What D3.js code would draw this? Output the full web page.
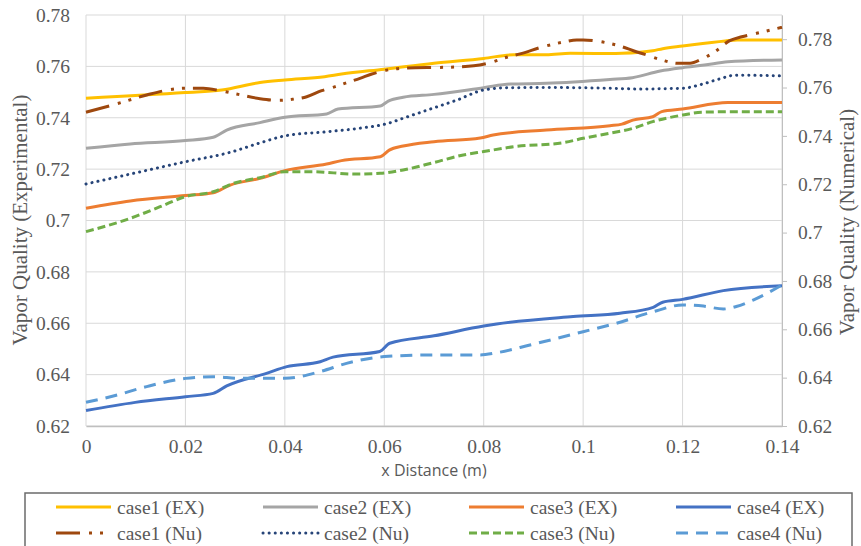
<!DOCTYPE html>
<html>
<head>
<meta charset="utf-8">
<script src="https://cdn.jsdelivr.net/npm/d3@7"></script>
<style>
    body { margin: 0; background: #fff; }
    svg { display: block; }
</style>
</head>
<body>
<div id="chart"></div>
<script>
let width = 861;
let height = 546;

// x ticks / y ticks
const xTicks = [0, 0.02, 0.04, 0.06, 0.08, 0.1, 0.12, 0.14];
const xTickLabels = ["0", "0.02", "0.04", "0.06", "0.08", "0.1", "0.12", "0.14"];
const yTicks = [0.62, 0.64, 0.66, 0.68, 0.70, 0.72, 0.74, 0.76, 0.78];
const yTickLabels = ["0.62", "0.64", "0.66", "0.68", "0.7", "0.72", "0.74", "0.76", "0.78"];

const seriesNames = ["case1 (EX)", "case2 (EX)", "case3 (EX)", "case4 (EX)",
                     "case1 (Nu)", "case2 (Nu)", "case3 (Nu)", "case4 (Nu)"];

// experimental (left axis)
const case1ExX = [0, 0.02, 0.0273, 0.035, 0.04, 0.048, 0.0514, 0.06, 0.07, 0.08, 0.086, 0.0926, 0.0974, 0.1054, 0.1078, 0.114, 0.116, 0.12, 0.1286, 0.131, 0.14];
const case1ExY = [0.7476, 0.7498, 0.7508, 0.7537, 0.7547, 0.756, 0.757, 0.7589, 0.7612, 0.7631, 0.7645, 0.7645, 0.7651, 0.765, 0.7651, 0.7661, 0.7669, 0.7679, 0.7699, 0.7703, 0.7703];

const case2ExX = [0, 0.0089, 0.02, 0.0256, 0.0283, 0.035, 0.04, 0.0484, 0.0507, 0.0592, 0.0608, 0.0638, 0.07, 0.08, 0.0853, 0.0926, 0.1054, 0.1099, 0.1155, 0.12, 0.1244, 0.1291, 0.14];
const case2ExY = [0.7281, 0.7298, 0.7311, 0.7324, 0.7352, 0.7381, 0.7402, 0.7415, 0.7434, 0.7446, 0.7465, 0.748, 0.7491, 0.7517, 0.7531, 0.7534, 0.7549, 0.7556, 0.7582, 0.7595, 0.7605, 0.7618, 0.7625];

const case3ExX = [0, 0.0089, 0.02, 0.0256, 0.029, 0.035, 0.04, 0.0484, 0.0514, 0.0592, 0.061, 0.0638, 0.07, 0.0793, 0.0819, 0.0926, 0.1054, 0.1078, 0.11, 0.114, 0.1158, 0.12, 0.1291, 0.14];
const case3ExY = [0.7048, 0.7076, 0.7097, 0.7108, 0.7138, 0.7164, 0.7194, 0.722, 0.7233, 0.7248, 0.7274, 0.729, 0.7307, 0.7321, 0.7333, 0.7352, 0.7369, 0.7375, 0.7391, 0.7404, 0.7424, 0.7434, 0.7459, 0.7459];

const case4ExX = [0, 0.0099, 0.02, 0.0256, 0.0283, 0.0363, 0.0404, 0.0471, 0.0497, 0.0591, 0.0611, 0.07, 0.08, 0.0826, 0.098, 0.1074, 0.1141, 0.116, 0.12, 0.1282, 0.14];
const case4ExY = [0.626, 0.6292, 0.6314, 0.6327, 0.6356, 0.6405, 0.6431, 0.645, 0.6468, 0.649, 0.6522, 0.6551, 0.6589, 0.6597, 0.6626, 0.6639, 0.6662, 0.6682, 0.6693, 0.6727, 0.6746];

// numerical (right axis)
const case1NuX = [0, 0.0054, 0.0122, 0.0155, 0.02, 0.0236, 0.027, 0.0303, 0.035, 0.0387, 0.0414, 0.0444, 0.0474, 0.05, 0.0527, 0.0551, 0.0575, 0.0608, 0.0638, 0.07, 0.0732, 0.078, 0.0813, 0.0846, 0.0873, 0.092, 0.096, 0.0987, 0.1, 0.1034, 0.1054, 0.1078, 0.1101, 0.1124, 0.1158, 0.1191, 0.1215, 0.1238, 0.1265, 0.1295, 0.1319, 0.1342, 0.14];
const case1NuY = [0.7498, 0.7528, 0.7569, 0.7586, 0.7597, 0.7597, 0.7587, 0.7573, 0.7554, 0.7547, 0.7551, 0.7562, 0.7587, 0.7603, 0.7622, 0.7638, 0.7656, 0.7673, 0.768, 0.7683, 0.7684, 0.769, 0.7703, 0.7725, 0.7739, 0.7769, 0.7788, 0.7797, 0.7797, 0.779, 0.7782, 0.7769, 0.7752, 0.7737, 0.7714, 0.77, 0.77, 0.7717, 0.7748, 0.7794, 0.781, 0.7821, 0.7849];

const case2NuX = [0, 0.0089, 0.02, 0.029, 0.035, 0.04, 0.0484, 0.0548, 0.0608, 0.0638, 0.07, 0.0746, 0.08, 0.0846, 0.0926, 0.1054, 0.111, 0.12, 0.1238, 0.1272, 0.1306, 0.14];
const case2NuY = [0.7201, 0.7242, 0.7293, 0.7332, 0.7371, 0.74, 0.7417, 0.7431, 0.7452, 0.7473, 0.7516, 0.7548, 0.759, 0.7599, 0.76, 0.7597, 0.7594, 0.7597, 0.7613, 0.7634, 0.7651, 0.7648];

const case3NuX = [0, 0.0089, 0.0149, 0.02, 0.0256, 0.0297, 0.035, 0.04, 0.0455, 0.0541, 0.0592, 0.0638, 0.07, 0.0759, 0.08, 0.086, 0.096, 0.1, 0.1054, 0.11, 0.114, 0.12, 0.1238, 0.131, 0.14];
const case3NuY = [0.7004, 0.7059, 0.7107, 0.7149, 0.7169, 0.7204, 0.7227, 0.7252, 0.7252, 0.7242, 0.7245, 0.7259, 0.729, 0.7321, 0.7335, 0.7355, 0.7372, 0.739, 0.7411, 0.7431, 0.7459, 0.7486, 0.7498, 0.75, 0.75];

const case4NuX = [0, 0.0055, 0.0122, 0.02, 0.0256, 0.031, 0.0363, 0.04, 0.0471, 0.0524, 0.06, 0.0702, 0.0793, 0.0826, 0.0893, 0.1, 0.1067, 0.1148, 0.12, 0.1242, 0.1282, 0.1308, 0.1342, 0.14];
const case4NuY = [0.6298, 0.6324, 0.6363, 0.6397, 0.6404, 0.6397, 0.6397, 0.6397, 0.6425, 0.6459, 0.6487, 0.6494, 0.6494, 0.6503, 0.6535, 0.659, 0.6625, 0.6677, 0.6701, 0.6696, 0.6684, 0.6694, 0.6721, 0.6783];

const seriesX = [case1ExX, case2ExX, case3ExX, case4ExX, case1NuX, case2NuX, case3NuX, case4NuX];
const seriesY = [case1ExY, case2ExY, case3ExY, case4ExY, case1NuY, case2NuY, case3NuY, case4NuY];

// styles
const colors = ["#FFC000", "#A5A5A5", "#ED7D31", "#4472C4", "#9E480E", "#264478", "#70AD47", "#5B9BD5"];
const dashes = [null, null, null, null, "24,9,3,8,3,8", "0.1,6", "8,4", "12,8"];

const plot = {left: 86, right: 782, top: 15, bottom: 426};
const serif = "'Liberation Serif', 'Times New Roman', serif";
const grey = "#595959";

let x = d3.scaleLinear().domain([0, 0.14]).range([plot.left, plot.right]);
let yL = d3.scaleLinear().domain([0.62, 0.78]).range([plot.bottom, plot.top]);
let yR = d3.scaleLinear().domain([0.62, 0.79]).range([plot.bottom, plot.top]);

let svg = d3.select("#chart")
    .append("svg")
    .attr("width", width)
    .attr("height", height);

// gridlines
svg.append("g")
    .selectAll("line")
    .data(yTicks)
    .join("line")
    .attr("x1", plot.left).attr("x2", plot.right)
    .attr("y1", d => yL(d)).attr("y2", d => yL(d))
    .attr("stroke", "#d9d9d9").attr("stroke-width", 1);

svg.append("g")
    .selectAll("line")
    .data(xTicks)
    .join("line")
    .attr("x1", d => x(d)).attr("x2", d => x(d))
    .attr("y1", plot.top).attr("y2", plot.bottom)
    .attr("stroke", "#d9d9d9").attr("stroke-width", 1);

// bottom axis
const xAxis = svg.append("g")
    .attr("transform", `translate(0,${plot.bottom})`)
    .call(d3.axisBottom(x).tickValues(xTicks)
        .tickFormat((d, i) => xTickLabels[i]).tickSize(0).tickPadding(13));
xAxis.select(".domain").attr("stroke", "#bfbfbf").attr("stroke-width", 1.5);

// left axis
const leftAxis = svg.append("g")
    .attr("transform", `translate(${plot.left},0)`)
    .call(d3.axisLeft(yL).tickValues(yTicks)
        .tickFormat((d, i) => yTickLabels[i]).tickSize(0).tickPadding(16));
leftAxis.select(".domain").remove();

// right axis
const rightAxis = svg.append("g")
    .attr("transform", `translate(${plot.right},0)`)
    .call(d3.axisRight(yR).tickValues(yTicks)
        .tickFormat((d, i) => yTickLabels[i]).tickSize(5).tickPadding(11).tickSizeOuter(0));
rightAxis.select(".domain").attr("stroke", "#bfbfbf");
rightAxis.selectAll(".tick line").attr("stroke", "#bfbfbf");

svg.selectAll(".tick text")
    .attr("fill", grey)
    .style("font-family", serif)
    .style("font-size", "19.5px");

// series lines
const line = d3.line()
    .x(d => x(d[0]))
    .curve(d3.curveMonotoneX);

seriesNames.forEach((name, i) => {
    const ys = i < 4 ? yL : yR;
    const pts = seriesX[i].map((v, j) => [v, seriesY[i][j]]);
    svg.append("path")
        .datum(pts)
        .attr("fill", "none")
        .attr("stroke", colors[i])
        .attr("stroke-width", 3)
        .attr("stroke-dasharray", dashes[i])
        .attr("stroke-linecap", i == 5 ? "round" : "butt")
        .attr("d", line.y(d => ys(d[1])));
});

// axis titles
svg.append("text")
    .attr("transform", `translate(27,220) rotate(-90)`)
    .attr("text-anchor", "middle")
    .attr("fill", grey)
    .style("font-family", serif)
    .style("font-size", "21px")
    .text("Vapor Quality (Experimental)");

svg.append("text")
    .attr("transform", `translate(854,222) rotate(-90)`)
    .attr("text-anchor", "middle")
    .attr("fill", grey)
    .style("font-family", serif)
    .style("font-size", "21px")
    .text("Vapor Quality (Numerical)");

svg.append("text")
    .attr("x", (plot.left + plot.right) / 2)
    .attr("y", 476)
    .attr("text-anchor", "middle")
    .attr("fill", grey)
    .style("font-family", "'Open Sans', sans-serif")
    .style("font-size", "16px")
    .text("x Distance (m)");

// legend
const legend = svg.append("g");
legend.append("rect")
    .attr("x", 25).attr("y", 493)
    .attr("width", 827).attr("height", 70)
    .attr("fill", "#fff")
    .attr("stroke", "#6b6b6b").attr("stroke-width", 1.5);

const colX = [56, 263, 469, 676];
const rowY = [507, 533];

const item = legend.selectAll(".item")
    .data(seriesNames)
    .join("g")
    .attr("class", "item")
    .attr("transform", (d, i) => `translate(${colX[i % 4]},${rowY[Math.floor(i / 4)]})`);

item.append("line")
    .attr("x1", 0).attr("x2", 55)
    .attr("stroke", (d, i) => colors[i])
    .attr("stroke-width", 3)
    .attr("stroke-linecap", (d, i) => i == 5 ? "round" : "butt")
    .attr("stroke-dasharray", (d, i) => dashes[i]);

item.append("text")
    .attr("x", 61)
    .attr("dy", "0.35em")
    .attr("fill", grey)
    .style("font-family", serif)
    .style("font-size", "19.5px")
    .text(d => d);
</script>
</body>
</html>
